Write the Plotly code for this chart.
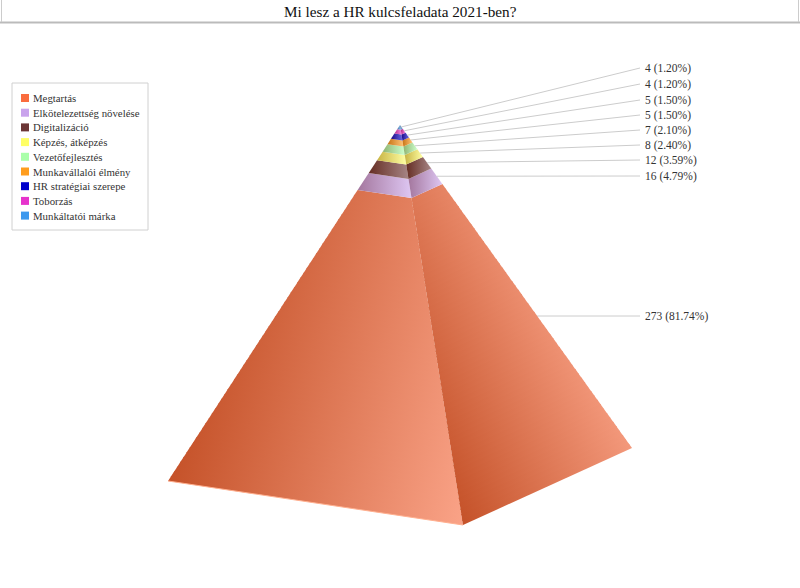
import plotly.graph_objects as go

title = 'Mi lesz a HR kulcsfeladata 2021-ben?'
categories = ['Megtartás', 'Elkötelezettség növelése', 'Digitalizáció', 'Képzés, átképzés',
              'Vezetőfejlesztés', 'Munkavállalói élmény', 'HR stratégiai szerepe', 'Toborzás',
              'Munkáltatói márka']
values = [273, 16, 12, 8, 7, 5, 5, 4, 4]
colors = ['#fa6c3e', '#c9a3ec', '#6b3535', '#ffff66', '#aaffaa', '#ff9d1e', '#0000cc', '#e633cc', '#3d99ee']

# pyramid corners in page pixels
apex = (400, 125)
left = (168, 481)
front = (463, 525)
right = (632, 448)

# slanted shading of the big band: x of the dark and light end as x = x0 + k * y
left_shade = dict(dark=(168, 481), slope=-0.266, width=307)
right_shade = dict(dark=(463, 525), slope=0.435, width=202)

FONT = 'Liberation Serif'
total = sum(values)


def mix(c, other, t):
    a = [int(c[i:i + 2], 16) for i in (1, 3, 5)]
    return 'rgb(%d,%d,%d)' % tuple(a[i] + (other[i] - a[i]) * t for i in range(3))


def point(corner, t):
    return (apex[0] + (corner[0] - apex[0]) * t, apex[1] + (corner[1] - apex[1]) * t)


def ramp(color):
    return [[0, mix(color, (90, 30, 0), 0.33)], [1, mix(color, (255, 255, 255), 0.4)]]


fig = go.Figure()


def add_poly(c1, c2, t0, t1, gradient):
    pts = [point(c1, t1), point(c2, t1), point(c2, t0), point(c1, t0), point(c1, t1)]
    fig.add_trace(go.Scatter(
        x=[p[0] for p in pts], y=[p[1] for p in pts],
        mode='lines', fill='toself', line=dict(width=0),
        fillgradient=gradient, hoverinfo='skip', showlegend=False,
    ))


def add_face(c1, c2, t0, t1, color, shade=None):
    if shade is None:
        add_poly(c1, c2, t0, t1, dict(type='horizontal', colorscale=ramp(color)))
        return
    # a slanted gradient is built from thin rows, each overlapping the one below
    rows = 60
    step = (t1 - t0) / rows
    for r in range(rows):
        ta = t0 + r * step
        tb = min(t1, ta + step * 1.25)
        y_mid = point(c1, (ta + tb) / 2)[1]
        x0 = shade['dark'][0] + shade['slope'] * (y_mid - shade['dark'][1])
        add_poly(c1, c2, ta, tb, dict(type='horizontal', colorscale=ramp(color),
                                      start=x0, stop=x0 + shade['width']))


# bands are stacked from the bottom, height proportional to the value
t_bottom = 1.0
label_y = [316, 176, 160, 145, 130, 115, 100, 84, 68]
for i, v in enumerate(values):
    t_top = t_bottom - v / total
    add_face(left, front, t_top, t_bottom, colors[i], left_shade if i == 0 else None)
    add_face(front, right, t_top, t_bottom, colors[i], right_shade if i == 0 else None)

    # leader line and value label
    start = point(right, (t_top + t_bottom) / 2)
    fig.add_trace(go.Scatter(x=[start[0], 640], y=[start[1], label_y[i]], mode='lines',
                             line=dict(color='#cccccc', width=1), hoverinfo='skip', showlegend=False))
    fig.add_annotation(x=643, y=label_y[i], text='%d (%.2f%%)' % (v, v / total * 100), showarrow=False,
                       xanchor='left', yanchor='middle', font=dict(family=FONT, size=11.5, color='#333333'))
    t_bottom = t_top

# light rim on the lower left edge
fig.add_trace(go.Scatter(x=[left[0], front[0]], y=[left[1], front[1]], mode='lines',
                         line=dict(color='#ffb090', width=1), hoverinfo='skip', showlegend=False))

# legend box
legend_y = [98 + 14.7 * i for i in range(len(categories))]
fig.add_shape(type='rect', x0=12, x1=148, y0=83, y1=230, layer='below',
              line=dict(color='#d0d0d0', width=1), fillcolor='white')
fig.add_trace(go.Scatter(x=[25] * len(categories), y=legend_y, mode='markers',
                         marker=dict(symbol='square', size=8, color=colors), hoverinfo='skip', showlegend=False))
for name, y in zip(categories, legend_y):
    fig.add_annotation(x=31, y=y, text=name, showarrow=False, xanchor='left', yanchor='middle',
                       font=dict(family=FONT, size=10.8, color='#333333'))

# title bar
fig.add_shape(type='line', x0=0, x1=800, y0=22.5, y1=22.5, line=dict(color='#bbbbbb', width=2))
fig.add_shape(type='line', x0=1.5, x1=1.5, y0=0, y1=22, line=dict(color='#cccccc', width=1))
fig.add_shape(type='line', x0=798.5, x1=798.5, y0=0, y1=22, line=dict(color='#cccccc', width=1))
fig.add_annotation(x=400, y=11.5, text=title, showarrow=False, xanchor='center', yanchor='middle',
                   font=dict(family=FONT, size=15.2, color='#111111'))

fig.update_layout(
    width=800, height=588,
    margin=dict(l=0, r=0, t=0, b=0),
    paper_bgcolor='white', plot_bgcolor='white',
    showlegend=False,
    xaxis=dict(range=[0, 800], visible=False, fixedrange=True),
    yaxis=dict(range=[588, 0], visible=False, fixedrange=True),
)

# the page's default body margin would shift the chart by 8px
fig.write_html("out.html", post_script="document.body.style.margin='0';document.body.style.overflow='hidden';",
               config=dict(displayModeBar=False))
